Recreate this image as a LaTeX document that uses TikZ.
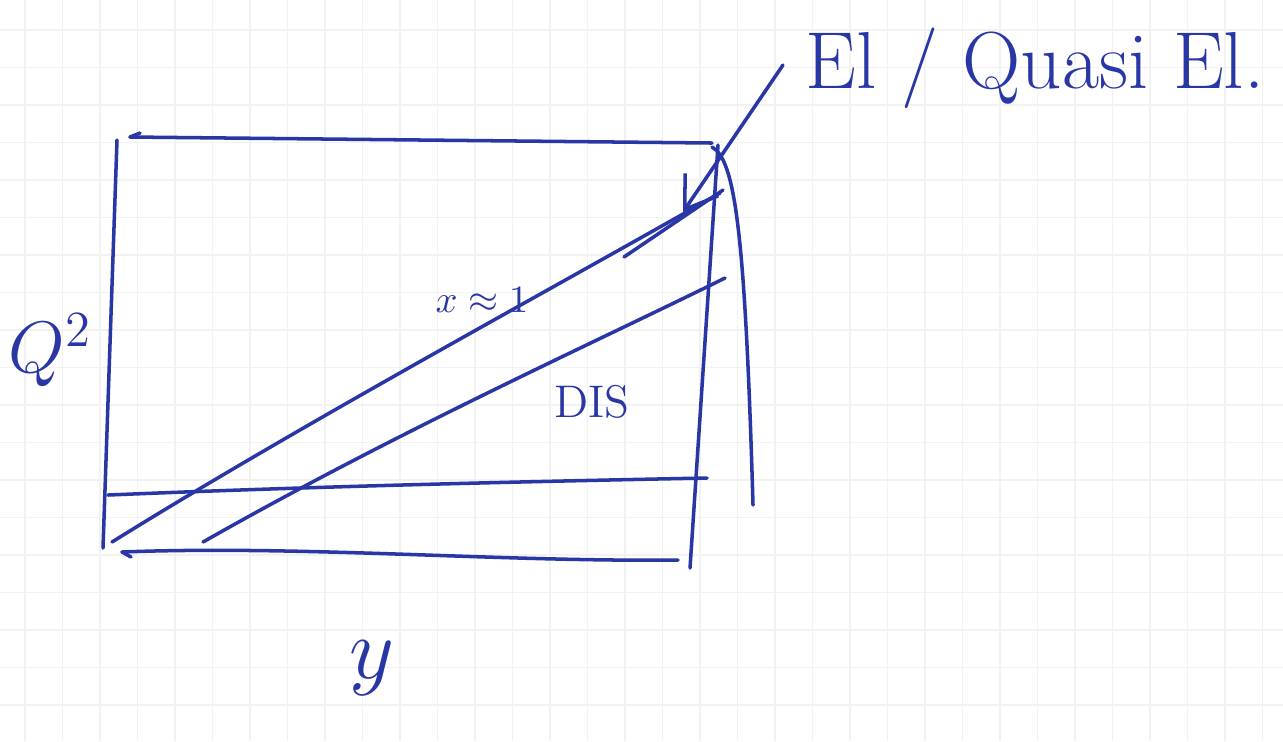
\documentclass[tikz,border=0pt]{standalone}
\usetikzlibrary{arrows.meta,positioning,calc}
\definecolor{inkblue}{RGB}{40,55,165}

\begin{document}
\begin{tikzpicture}[x=0.01cm,y=-0.01cm,>={Straight Barb[length=3mm,width=4mm]},ink/.style={draw=inkblue,line width=1pt,line cap=round,line join=round},gridline/.style={draw=gray!10,line width=0.5pt},every node/.style={text=inkblue,inner sep=0pt}]
    \useasboundingbox (0,0) rectangle (1283,741);
    \fill[white] (0,0) rectangle (1283,741);
    % squared paper
    \foreach \gx in {25,62.5,...,1283} \draw[gridline] (\gx,0) -- (\gx,741);
    \foreach \gy in {30,67.5,...,741} \draw[gridline] (0,\gy) -- (1283,\gy);
    % frame corners
    \coordinate (tl) at (130,137);
    \coordinate (tr) at (712,143);
    \coordinate (bl) at (122,552);
    \coordinate (br) at (678,560);
    \draw[ink] (117,140) -- (103,548);
    \draw[ink] (tl) -- (tr);
    \draw[ink] (tl) -- (140,133);
    \draw[ink] (718,145) -- (690,568);
    \draw[ink] (bl) .. controls (300,545) and (500,562) .. (br);
    \draw[ink] (bl) -- (131,557);
    \draw[ink] (108,495) .. controls (300,487) and (500,482) .. (707,478);
    % kinematic lines
    \draw[ink] (112,542) .. controls (300,425) and (550,290) .. (720,193);
    \draw[ink] (624,257) -- (723,190);
    \draw[ink] (203,542) .. controls (400,430) and (600,340) .. (725,278);
    \draw[ink] (712,147) .. controls (735,160) and (745,230) .. (753,505);
    % labels
    \node (elqel) at (1035,68) {\fontsize{23}{27}\selectfont El / Quasi El.};
    \node (qsq) [anchor=west] at (8,350) {\fontsize{22}{26}\selectfont $Q^2$};
    \node (ylab) at (372,668) {\fontsize{30}{34}\selectfont $y$};
    \node (xlab) at (482,300) {\fontsize{11}{13}\selectfont $x\approx1$};
    \node (dis) at (592,402) {\fontsize{13}{15}\selectfont DIS};
    \coordinate (band) at (683,212);
    \draw[ink,->] ($(elqel.west)+(-22,-3)$) -- (band);
  \end{tikzpicture}
\end{document}
